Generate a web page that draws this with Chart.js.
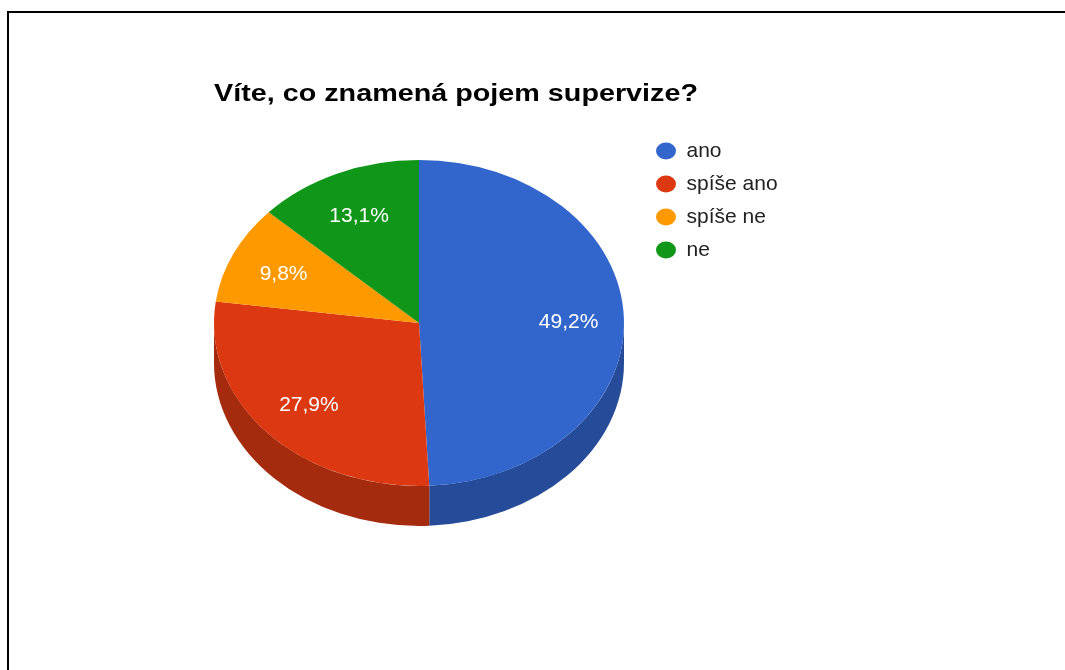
<!DOCTYPE html>
<html>
<head>
<meta charset="utf-8">
<title>Víte, co znamená pojem supervize?</title>
<script src="https://cdn.jsdelivr.net/npm/chart.js@4"></script>
<style>
  html, body { margin: 0; padding: 0; background: #fff; }
  #frame { position: absolute; left: 7px; top: 11px; right: 0; bottom: 0; border-top: 2px solid #000; border-left: 2px solid #000; }
  #pie { position: absolute; left: 0; top: 0; }
</style>
</head>
<body>
<div id="frame"></div>
<canvas id="pie" width="1065" height="670"></canvas>
<script>

var question = 'Víte, co znamená pojem supervize?';
var answers = [ 'ano', 'spíše ano', 'spíše ne', 'ne' ];
var shares = [ 49.2, 27.9, 9.8, 13.1 ];

var topColors = [ '#3366cc', '#dc3912', '#ff9900', '#109618' ];
var sideColors = [ '#264c99', '#a52b0e', '#bf7300', '#0c7012' ];

( function() {

  var FONT = '"Liberation Sans", Arial, sans-serif';
  var TILT = 0.795;   // vertical squash of the pie top
  var DEPTH = 40;     // height of the front wall, px
  var LABEL_AT = 0.73;

  var LEGEND_FONT = 21;
  var LEGEND_PAD = 12;
  var DOT_W = 20;
  var PIE_RIGHT = 644;  // right edge of the chart area, legend starts here

  Chart.defaults.font.family = FONT;

  var formatShare = function( v ) {
    return v.toFixed( 1 ).replace( '.', ',' ) + '%';
  };

  // legend width as Chart.js fits it, so the chart area ends at PIE_RIGHT
  var legendWidth = function() {
    var ctx = document.createElement( 'canvas' ).getContext( '2d' );
    ctx.font = LEGEND_FONT + 'px ' + FONT;
    var widest = Math.max.apply( Math, answers.map( function( a ) {
      return ctx.measureText( a ).width;
    } ) );
    return LEGEND_PAD + DOT_W + LEGEND_FONT / 2 + widest + 10;
  };

  // draws the front wall, then leaves the context squashed for the slices
  var tiltPlugin = {
    id: 'tilt',
    beforeDatasetsDraw: function( chart ) {

      var ctx = chart.ctx;
      var arcs = chart.getDatasetMeta( 0 ).data;
      var cx = arcs[ 0 ].x;
      var cy = arcs[ 0 ].y;
      var drop = DEPTH / TILT;

      ctx.save();
      ctx.translate( cx, cy );
      ctx.scale( 1, TILT );
      ctx.translate( -cx, -cy );

      arcs.forEach( function( arc, i ) {
        var from = Math.max( arc.startAngle, 0 );
        var to = Math.min( arc.endAngle, Math.PI );
        if ( to <= from ) return;
        ctx.beginPath();
        ctx.arc( arc.x, arc.y, arc.outerRadius, from, to );
        ctx.arc( arc.x, arc.y + drop, arc.outerRadius, to, from, true );
        ctx.closePath();
        ctx.fillStyle = sideColors[ i ];
        ctx.fill();
      } );

    },
    afterDatasetsDraw: function( chart ) {

      var ctx = chart.ctx;
      ctx.restore();

      var arcs = chart.getDatasetMeta( 0 ).data;
      var values = chart.data.datasets[ 0 ].data;

      ctx.save();
      ctx.font = '21px ' + FONT;
      ctx.fillStyle = '#ffffff';
      ctx.textAlign = 'center';
      ctx.textBaseline = 'middle';
      arcs.forEach( function( arc, i ) {
        var mid = ( arc.startAngle + arc.endAngle ) / 2;
        var r = arc.outerRadius * LABEL_AT;
        ctx.fillText( formatShare( values[ i ] ), arc.x + r * Math.cos( mid ), arc.y + r * Math.sin( mid ) * TILT + 2 );
      } );
      ctx.restore();

    }
  };

  // wide bold heading above the pie
  var headingPlugin = {
    id: 'heading',
    afterDraw: function( chart, args, opts ) {
      var ctx = chart.ctx;
      ctx.save();
      ctx.font = 'bold ' + opts.size + 'px ' + FONT;
      ctx.fillStyle = '#000000';
      ctx.textBaseline = 'alphabetic';
      ctx.translate( opts.x, opts.y );
      ctx.scale( opts.width / ctx.measureText( opts.text ).width, 1 );
      ctx.fillText( opts.text, 0, 0 );
      ctx.restore();
    }
  };

  new Chart( document.getElementById( 'pie' ), {
    type: 'pie',
    data: {
      labels: answers,
      datasets: [
        {
          data: shares,
          backgroundColor: topColors,
          hoverBackgroundColor: topColors,
          borderWidth: 0,
          radius: 205,
          clip: false
        }
      ]
    },
    options: {
      responsive: false,
      animation: false,
      events: [],
      layout: {
        padding: { left: 194, right: 1065 - PIE_RIGHT - legendWidth(), top: 128.5, bottom: 152.5 }
      },
      plugins: {
        legend: {
          position: 'right',
          align: 'start',
          labels: {
            usePointStyle: true,
            pointStyle: 'circle',
            pointStyleWidth: DOT_W,
            boxHeight: 12,
            padding: LEGEND_PAD,
            color: '#222222',
            font: { size: LEGEND_FONT }
          }
        },
        tooltip: { enabled: false },
        heading: { text: question, x: 214, y: 101, size: 24, width: 484 }
      }
    },
    plugins: [ tiltPlugin, headingPlugin ]
  } );

} )();

</script>
</body>
</html>
